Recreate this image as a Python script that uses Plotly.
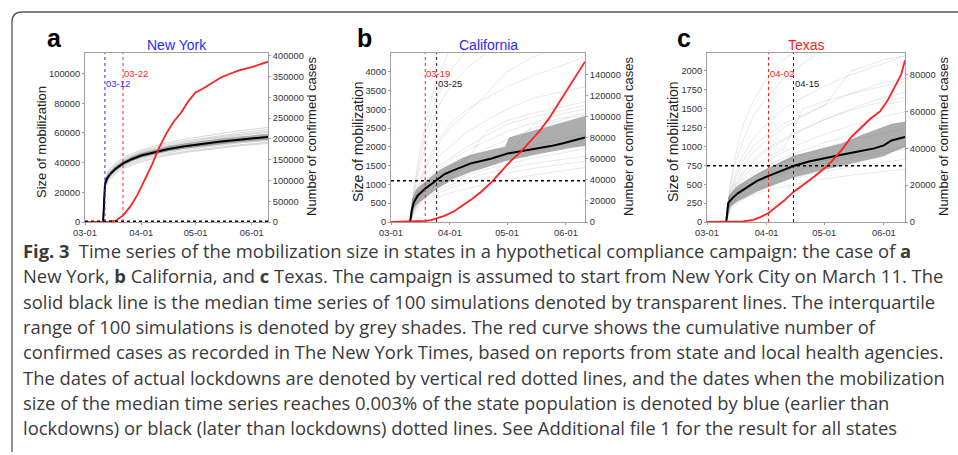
import plotly.graph_objects as go

W, H = 958, 455

# ---------------- data ----------------
TICK_DATES = ["03-01", "04-01", "05-01", "06-01"]
TICK_TEXT = ["03-01", "04-01", "05-01", "06-01"]

# ---- New York ----
NY_NAME = "New York"
NY_MED_DATES = ["03-01", "03-11", "03-12", "03-13", "03-15", "03-18", "03-22", "03-27", "04-01",
                "04-08", "04-16", "04-25", "05-05", "05-15", "05-25", "06-04", "06-11"]
NY_MED = [0, 0, 25000, 29000, 32500, 36000, 39500, 42500, 44800, 47000, 49200, 51000, 52800,
          54200, 55500, 56700, 57400]
NY_Q1 = [0, 0, 23500, 27500, 31000, 34500, 38000, 41000, 43300, 45500, 47600, 49300, 51000,
         52300, 53600, 54700, 55400]
NY_Q3 = [0, 0, 27000, 30500, 34000, 37500, 41000, 44200, 46500, 48800, 51000, 52900, 54800,
         56300, 57600, 58800, 59600]
NY_SIM_DATES = ["03-01", "03-11", "03-12", "03-14", "03-18", "03-24", "04-01", "04-12", "04-25",
                "05-10", "05-25", "06-11"]
NY_SIMS = [
    [0, 0, 28000, 33500, 39000, 43500, 47500, 51500, 54500, 57500, 60000, 62500],
    [0, 0, 27000, 32000, 37500, 42000, 46000, 49800, 52800, 55800, 58200, 60500],
    [0, 0, 24000, 29000, 34000, 38000, 41500, 44800, 47500, 50000, 52000, 53800],
    [0, 0, 23000, 28000, 33000, 37000, 40500, 44000, 46800, 49200, 51300, 53000],
    [0, 0, 26500, 31000, 36500, 40500, 44500, 48000, 50800, 53500, 55700, 58000],
    [0, 0, 25500, 30500, 35500, 40000, 43500, 47000, 49800, 52300, 54500, 56300],
    [0, 0, 29000, 34500, 40000, 44500, 48500, 52500, 55800, 58800, 61500, 63800],
    [0, 0, 24500, 29500, 34800, 39000, 42500, 46000, 48600, 51000, 53200, 55000],
    [0, 0, 26000, 30800, 36000, 40200, 44000, 47500, 50300, 52900, 55100, 57000],
    [0, 0, 27500, 32800, 38200, 42800, 46800, 50600, 53600, 56600, 59000, 61300],
]
NY_CASE_DATES = ["03-01", "03-05", "03-10", "03-14", "03-18", "03-22", "03-26", "03-30", "04-03",
                 "04-07", "04-11", "04-15", "04-19", "04-23", "04-27", "05-01", "05-05", "05-10",
                 "05-15", "05-20", "05-25", "06-01", "06-06", "06-10"]
NY_CASES = [0, 0, 200, 600, 3000, 15800, 37000, 66000, 102000, 138000, 180000, 214000, 242000,
            263000, 291000, 312000, 321000, 335000, 348000, 357000, 365000, 373000, 380000, 386000]
NY_LOCKDOWN = "03-22"
NY_REACH = "03-12"
NY_THRESHOLD = 583
NY_LEFT_TICKS = [0, 20000, 40000, 60000, 80000, 100000]
NY_RIGHT_TICKS = [0, 50000, 100000, 150000, 200000, 250000, 300000, 350000, 400000]

# ---- California ----
CA_NAME = "California"
CA_MED_DATES = ["03-01", "03-11", "03-12", "03-13", "03-15", "03-17", "03-19", "03-22", "03-25",
                "03-29", "04-03", "04-08", "04-12", "04-18", "04-23", "05-01", "05-09", "05-17",
                "05-24", "05-30", "06-05", "06-11"]
CA_MED = [0, 0, 350, 520, 700, 800, 890, 1000, 1110, 1270, 1380, 1470, 1560, 1630, 1690, 1820,
          1890, 1955, 2020, 2090, 2160, 2250]
CA_Q_DATES = ["03-01", "03-11", "03-12", "03-14", "03-16", "03-19", "03-22", "03-25", "03-29",
              "04-03", "04-08", "04-12", "04-18", "04-23", "04-30", "05-02", "05-09", "05-17",
              "05-24", "05-30", "06-05", "06-11"]
CA_Q1 = [0, 0, 250, 430, 520, 640, 760, 880, 1000, 1150, 1250, 1330, 1420, 1510, 1620, 1640,
         1720, 1800, 1870, 1930, 1980, 2020]
CA_Q3 = [0, 0, 600, 850, 950, 1080, 1200, 1330, 1460, 1600, 1720, 1790, 1870, 1930, 2000, 2250,
         2350, 2460, 2560, 2640, 2740, 2820]
CA_SIM_DATES = ["03-01", "03-11", "03-13", "03-16", "03-20", "03-25", "04-01", "04-10", "04-20",
                "05-01", "05-15", "06-01", "06-11"]
CA_SIMS = [
    [0, 0, 900, 1800, 2800, 3800, 4600, 5200, 5600, 6000, 6400, 6800, 7000],
    [0, 0, 700, 1400, 2200, 3000, 3600, 4100, 4500, 4800, 5200, 5600, 5800],
    [0, 0, 600, 1100, 1600, 2100, 2600, 3000, 3300, 3600, 3900, 4200, 4400],
    [0, 0, 500, 900, 1300, 1700, 2000, 2400, 2700, 3000, 3300, 3500, 3600],
    [0, 0, 450, 800, 1150, 1450, 1700, 2000, 2300, 2600, 2800, 3000, 3100],
    [0, 0, 400, 700, 950, 1200, 1450, 1700, 1950, 2200, 2500, 2750, 2850],
    [0, 0, 350, 600, 850, 1050, 1250, 1450, 1650, 1850, 2050, 2250, 2350],
    [0, 0, 300, 520, 720, 900, 1080, 1250, 1400, 1550, 1700, 1850, 1950],
    [0, 0, 250, 430, 600, 760, 900, 1040, 1170, 1300, 1430, 1550, 1620],
    [0, 0, 200, 350, 500, 640, 770, 890, 1000, 1120, 1250, 1380, 1450],
    [0, 0, 380, 650, 900, 1150, 1400, 1650, 2400, 2700, 2900, 3100, 3200],
    [0, 0, 550, 1000, 1500, 2000, 2500, 2900, 3400, 4000, 4400, 4700, 4900],
    [0, 0, 320, 560, 780, 980, 1170, 1350, 1550, 1750, 2600, 2800, 2900],
    [0, 0, 420, 750, 1050, 1350, 1650, 1900, 2150, 2400, 2650, 2900, 3000],
    [0, 0, 800, 1600, 2500, 3300, 4000, 4600, 5000, 5400, 5800, 6200, 6400],
    [0, 0, 280, 480, 660, 830, 990, 1140, 1290, 1430, 1560, 1680, 1750],
]
CA_CASE_DATES = ["03-01", "03-10", "03-15", "03-19", "03-22", "03-25", "03-29", "04-03", "04-08",
                 "04-12", "04-17", "04-23", "04-28", "05-03", "05-08", "05-13", "05-18", "05-23",
                 "05-28", "06-02", "06-07", "06-11"]
CA_CASES = [0, 150, 400, 1000, 1800, 3200, 5800, 10000, 16000, 21000, 28000, 38000, 48000, 58000,
            66000, 76000, 86000, 98000, 112000, 126000, 140000, 152000]
CA_LOCKDOWN = "03-19"
CA_REACH = "03-25"
CA_THRESHOLD = 1100
CA_LEFT_TICKS = [0, 500, 1000, 1500, 2000, 2500, 3000, 3500, 4000]
CA_RIGHT_TICKS = [0, 20000, 40000, 60000, 80000, 100000, 120000, 140000]

# ---- Texas ----
TX_NAME = "Texas"
TX_MED_DATES = ["03-01", "03-11", "03-12", "03-14", "03-17", "03-22", "03-27", "04-02", "04-08",
                "04-15", "04-23", "05-02", "05-10", "05-20", "05-27", "06-01", "06-05", "06-12"]
TX_MED = [0, 0, 250, 310, 380, 465, 545, 610, 670, 742, 800, 850, 890, 940, 975, 1015, 1080, 1126]
TX_Q1 = [0, 0, 170, 220, 270, 330, 400, 460, 520, 590, 640, 700, 740, 800, 840, 870, 920, 990]
TX_Q3 = [0, 0, 330, 400, 480, 560, 640, 720, 790, 880, 930, 990, 1040, 1150, 1220, 1260, 1300,
         1330]
TX_SIM_DATES = ["03-01", "03-11", "03-13", "03-16", "03-20", "03-25", "04-01", "04-10", "04-20",
                "05-01", "05-15", "06-01", "06-12"]
TX_SIMS = [
    [0, 0, 450, 800, 1100, 1400, 1650, 1900, 2100, 2300, 2500, 2700, 2800],
    [0, 0, 380, 650, 900, 1100, 1300, 1500, 1650, 1800, 1950, 2100, 2200],
    [0, 0, 330, 550, 750, 920, 1080, 1250, 1400, 1550, 1700, 1850, 1900],
    [0, 0, 300, 480, 650, 800, 940, 1080, 1220, 1350, 1500, 1650, 1720],
    [0, 0, 260, 420, 560, 690, 810, 930, 1050, 1160, 1280, 1400, 1460],
    [0, 0, 230, 370, 490, 600, 700, 800, 890, 980, 1080, 1180, 1240],
    [0, 0, 200, 320, 420, 510, 590, 670, 740, 810, 880, 950, 1000],
    [0, 0, 170, 270, 350, 420, 490, 550, 610, 670, 730, 790, 830],
    [0, 0, 150, 230, 300, 360, 420, 470, 520, 570, 620, 670, 700],
    [0, 0, 280, 450, 600, 730, 850, 970, 1500, 1600, 1700, 1800, 1850],
    [0, 0, 350, 600, 820, 1000, 1150, 1300, 1420, 1540, 2000, 2150, 2200],
    [0, 0, 240, 390, 520, 640, 750, 850, 950, 1050, 1150, 1550, 1600],
    [0, 0, 500, 900, 1300, 1600, 1900, 2150, 2350, 2550, 2750, 2900, 3000],
    [0, 0, 310, 500, 680, 830, 970, 1100, 1230, 1360, 1480, 1600, 1650],
    [0, 0, 190, 300, 400, 490, 570, 640, 710, 780, 850, 920, 960],
]
TX_CASE_DATES = ["03-01", "03-10", "03-15", "03-20", "03-25", "03-29", "04-02", "04-06", "04-10",
                 "04-15", "04-20", "04-25", "05-01", "05-05", "05-10", "05-15", "05-20", "05-25",
                 "05-30", "06-03", "06-07", "06-10", "06-12"]
TX_CASES = [0, 20, 80, 300, 1200, 2800, 4900, 8000, 11500, 16300, 20000, 24000, 29000, 33000,
            39000, 46000, 51000, 56000, 60000, 66000, 74000, 80000, 87800]
TX_LOCKDOWN = "04-02"
TX_REACH = "04-15"
TX_THRESHOLD = 745
TX_LEFT_TICKS = [0, 250, 500, 750, 1000, 1250, 1500, 1750, 2000]
TX_RIGHT_TICKS = [0, 20000, 40000, 60000, 80000]

CAPTION_LINES = [
    "<b>Fig. 3</b>\u2002Time series of the mobilization size in states in a hypothetical compliance campaign: the case of <b>a</b>",
    "New York, <b>b</b> California, and <b>c</b> Texas. The campaign is assumed to start from New York City on March 11. The",
    "solid black line is the median time series of 100 simulations denoted by transparent lines. The interquartile",
    "range of 100 simulations is denoted by grey shades. The red curve shows the cumulative number of",
    "confirmed cases as recorded in The New York Times, based on reports from state and local health agencies.",
    "The dates of actual lockdowns are denoted by vertical red dotted lines, and the dates when the mobilization",
    "size of the median time series reaches 0.003% of the state population is denoted by blue (earlier than",
    "lockdowns) or black (later than lockdowns) dotted lines. See Additional file 1 for the result for all states",
]


def d(s):
    return "2020-" + s


# ---------------- styling / layout ----------------
RED = "#ff2020"
BLUE = "#2b2bff"
AX = "#a0a0a0"
TXT = "#333333"
CHART_FONT = "Liberation Sans, Arial, sans-serif"
TICK_SIZE = 9.3

PANELS = [
    dict(letter="a", name=NY_NAME, title_color=BLUE, x0=85, x1=268, letter_x=54, end="06-10",
         lmax=113900, rmax=407000, ltitle_size=13, ltitle_x=41, rtitle_x=311,
         med_dates=NY_MED_DATES, med=NY_MED, q_dates=NY_MED_DATES, q1=NY_Q1, q3=NY_Q3,
         sim_dates=NY_SIM_DATES, sims=NY_SIMS, sim_alpha=0.16,
         case_dates=NY_CASE_DATES, cases=NY_CASES, lock=NY_LOCKDOWN, reach=NY_REACH,
         reach_color=BLUE, thr=NY_THRESHOLD, lticks=NY_LEFT_TICKS, rticks=NY_RIGHT_TICKS),
    dict(letter="b", name=CA_NAME, title_color=BLUE, x0=391, x1=585, letter_x=364, end="06-11",
         lmax=4498, rmax=160200, ltitle_size=14, ltitle_x=358, rtitle_x=628,
         med_dates=CA_MED_DATES, med=CA_MED, q_dates=CA_Q_DATES, q1=CA_Q1, q3=CA_Q3,
         sim_dates=CA_SIM_DATES, sims=CA_SIMS, sim_alpha=0.09,
         case_dates=CA_CASE_DATES, cases=CA_CASES, lock=CA_LOCKDOWN, reach=CA_REACH,
         reach_color="#222222", thr=CA_THRESHOLD, lticks=CA_LEFT_TICKS, rticks=CA_RIGHT_TICKS),
    dict(letter="c", name=TX_NAME, title_color=RED, x0=707, x1=905, letter_x=684, end="06-12",
         lmax=2238, rmax=91700, ltitle_size=14, ltitle_x=673, rtitle_x=943,
         med_dates=TX_MED_DATES, med=TX_MED, q_dates=TX_MED_DATES, q1=TX_Q1, q3=TX_Q3,
         sim_dates=TX_SIM_DATES, sims=TX_SIMS, sim_alpha=0.09,
         case_dates=TX_CASE_DATES, cases=TX_CASES, lock=TX_LOCKDOWN, reach=TX_REACH,
         reach_color="#222222", thr=TX_THRESHOLD, lticks=TX_LEFT_TICKS, rticks=TX_RIGHT_TICKS),
]
PLOT_TOP, PLOT_BOTTOM = 53, 222


def px(x):
    return x / W


def py(y):
    return 1 - y / H


fig = go.Figure()
layout = dict(
    width=W, height=H, margin=dict(l=0, r=0, t=0, b=0, pad=0, autoexpand=False), autosize=False,
    paper_bgcolor="white", plot_bgcolor="white", showlegend=False,
    font=dict(family=CHART_FONT, color=TXT, size=10),
)
shapes = []
annotations = []

for i, p in enumerate(PANELS):
    xn = "x" if i == 0 else f"x{i + 1}"
    yl = "y" if i == 0 else f"y{2 * i + 1}"
    yr = f"y{2 * i + 2}"
    xkey = "xaxis" if i == 0 else f"xaxis{i + 1}"
    ylkey = "yaxis" if i == 0 else f"yaxis{2 * i + 1}"
    yrkey = f"yaxis{2 * i + 2}"

    # transparent simulation lines
    for s in p["sims"]:
        fig.add_trace(go.Scatter(
            x=[d(t) for t in p["sim_dates"]], y=s, xaxis=xn, yaxis=yl, mode="lines",
            line=dict(color=f"rgba(0,0,0,{p['sim_alpha']})", width=1), hoverinfo="skip"))
    # interquartile band
    fig.add_trace(go.Scatter(
        x=[d(t) for t in p["q_dates"]], y=p["q1"], xaxis=xn, yaxis=yl, mode="lines",
        line=dict(color="rgba(0,0,0,0)", width=0), hoverinfo="skip"))
    fig.add_trace(go.Scatter(
        x=[d(t) for t in p["q_dates"]], y=p["q3"], xaxis=xn, yaxis=yl, mode="lines",
        line=dict(color="rgba(0,0,0,0)", width=0), fill="tonexty",
        fillcolor="rgba(105,105,105,0.55)", hoverinfo="skip"))
    # median
    fig.add_trace(go.Scatter(
        x=[d(t) for t in p["med_dates"]], y=p["med"], xaxis=xn, yaxis=yl, mode="lines",
        line=dict(color="black", width=2), name="median"))
    # confirmed cases
    fig.add_trace(go.Scatter(
        x=[d(t) for t in p["case_dates"]], y=p["cases"], xaxis=xn, yaxis=yr, mode="lines",
        line=dict(color=RED, width=1.8), name="confirmed cases"))

    dom_x = [px(p["x0"]), px(p["x1"])]
    dom_y = [py(PLOT_BOTTOM), py(PLOT_TOP)]
    tick_common = dict(showline=True, linecolor=AX, linewidth=1, ticks="outside", ticklen=2,
                       tickcolor=AX, showgrid=False, zeroline=False, automargin=False,
                       tickfont=dict(size=TICK_SIZE, color=TXT, family=CHART_FONT))
    layout[xkey] = dict(domain=dom_x, anchor=yl, type="date",
                        range=[d("03-01"), d(p["end"])],
                        tickvals=[d(t) for t in TICK_DATES], ticktext=TICK_TEXT,
                        mirror=True, **tick_common)
    layout[ylkey] = dict(domain=dom_y, anchor=xn, range=[0, p["lmax"]],
                         tickvals=p["lticks"], tickformat="d", **tick_common)
    layout[yrkey] = dict(overlaying=yl, side="right", anchor=xn, range=[0, p["rmax"]],
                         tickvals=p["rticks"], tickformat="d", **tick_common)

    # lockdown / reach lines
    shapes.append(dict(type="line", xref=xn, yref=f"{yl} domain", x0=d(p["lock"]),
                       x1=d(p["lock"]), y0=0, y1=1, line=dict(color=RED, width=1, dash="dot"),
                       layer="above"))
    shapes.append(dict(type="line", xref=xn, yref=f"{yl} domain", x0=d(p["reach"]),
                       x1=d(p["reach"]), y0=0, y1=1,
                       line=dict(color=p["reach_color"], width=1, dash="dot"), layer="above"))
    shapes.append(dict(type="line", xref=f"{xn} domain", yref=yl, x0=0, x1=1, y0=p["thr"],
                       y1=p["thr"], line=dict(color="black", width=1.5, dash="dot"),
                       layer="above"))
    h = PLOT_BOTTOM - PLOT_TOP
    annotations.append(dict(text=p["lock"], xref=xn, yref=f"{yl} domain", x=d(p["lock"]),
                            y=(PLOT_BOTTOM - 73) / h, xanchor="left", yanchor="middle",
                            showarrow=False, xshift=-1,
                            font=dict(size=9.5, color=RED, family=CHART_FONT)))
    annotations.append(dict(text=p["reach"], xref=xn, yref=f"{yl} domain", x=d(p["reach"]),
                            y=(PLOT_BOTTOM - 83) / h, xanchor="left", yanchor="middle",
                            showarrow=False, xshift=-1,
                            font=dict(size=9.5, color=p["reach_color"], family=CHART_FONT)))
    # titles and axis labels
    cx = (p["x0"] + p["x1"]) / 2
    annotations.append(dict(text=p["name"], xref="paper", yref="paper", x=px(cx), y=py(45),
                            xanchor="center", yanchor="middle", showarrow=False,
                            font=dict(size=14, color=p["title_color"], family=CHART_FONT)))
    annotations.append(dict(text=f"<b>{p['letter']}</b>", xref="paper", yref="paper",
                            x=px(p["letter_x"]), y=py(38), xanchor="center", yanchor="middle",
                            showarrow=False,
                            font=dict(size=25, color="black", family=CHART_FONT)))
    annotations.append(dict(text="Size of mobilization", xref="paper", yref="paper",
                            x=px(p["ltitle_x"]), y=py(142), xanchor="center",
                            yanchor="middle", textangle=-90, showarrow=False,
                            font=dict(size=p["ltitle_size"], color="#222", family=CHART_FONT)))
    annotations.append(dict(text="Number of confirmed cases", xref="paper", yref="paper",
                            x=px(p["rtitle_x"]), y=py(137), xanchor="center",
                            yanchor="middle", textangle=-90, showarrow=False,
                            font=dict(size=13, color="#222", family=CHART_FONT)))

# caption
CAP_Y0, CAP_DY = 250.5, 25.3
for k, line in enumerate(CAPTION_LINES):
    annotations.append(dict(text=line, xref="paper", yref="paper", x=px(21),
                            y=py(CAP_Y0 + k * CAP_DY), xanchor="left", yanchor="middle",
                            showarrow=False,
                            font=dict(size=18.4, color="#3a3a3a", family="Open Sans")))

# frame border (rounded top-left corner)
shapes.append(dict(type="path", xref="paper", yref="paper",
                   path=(f"M {px(12)},{py(452)} L {px(12)},{py(22)} "
                         f"Q {px(12)},{py(12)} {px(22)},{py(12)} L {px(958)},{py(12)}"),
                   line=dict(color="#555555", width=1.3)))

layout["shapes"] = shapes
layout["annotations"] = annotations
fig.update_layout(**layout)
fig.write_html("out.html", config={"displayModeBar": False},
               post_script="document.body.style.margin='0px';document.body.style.overflow='hidden';")
